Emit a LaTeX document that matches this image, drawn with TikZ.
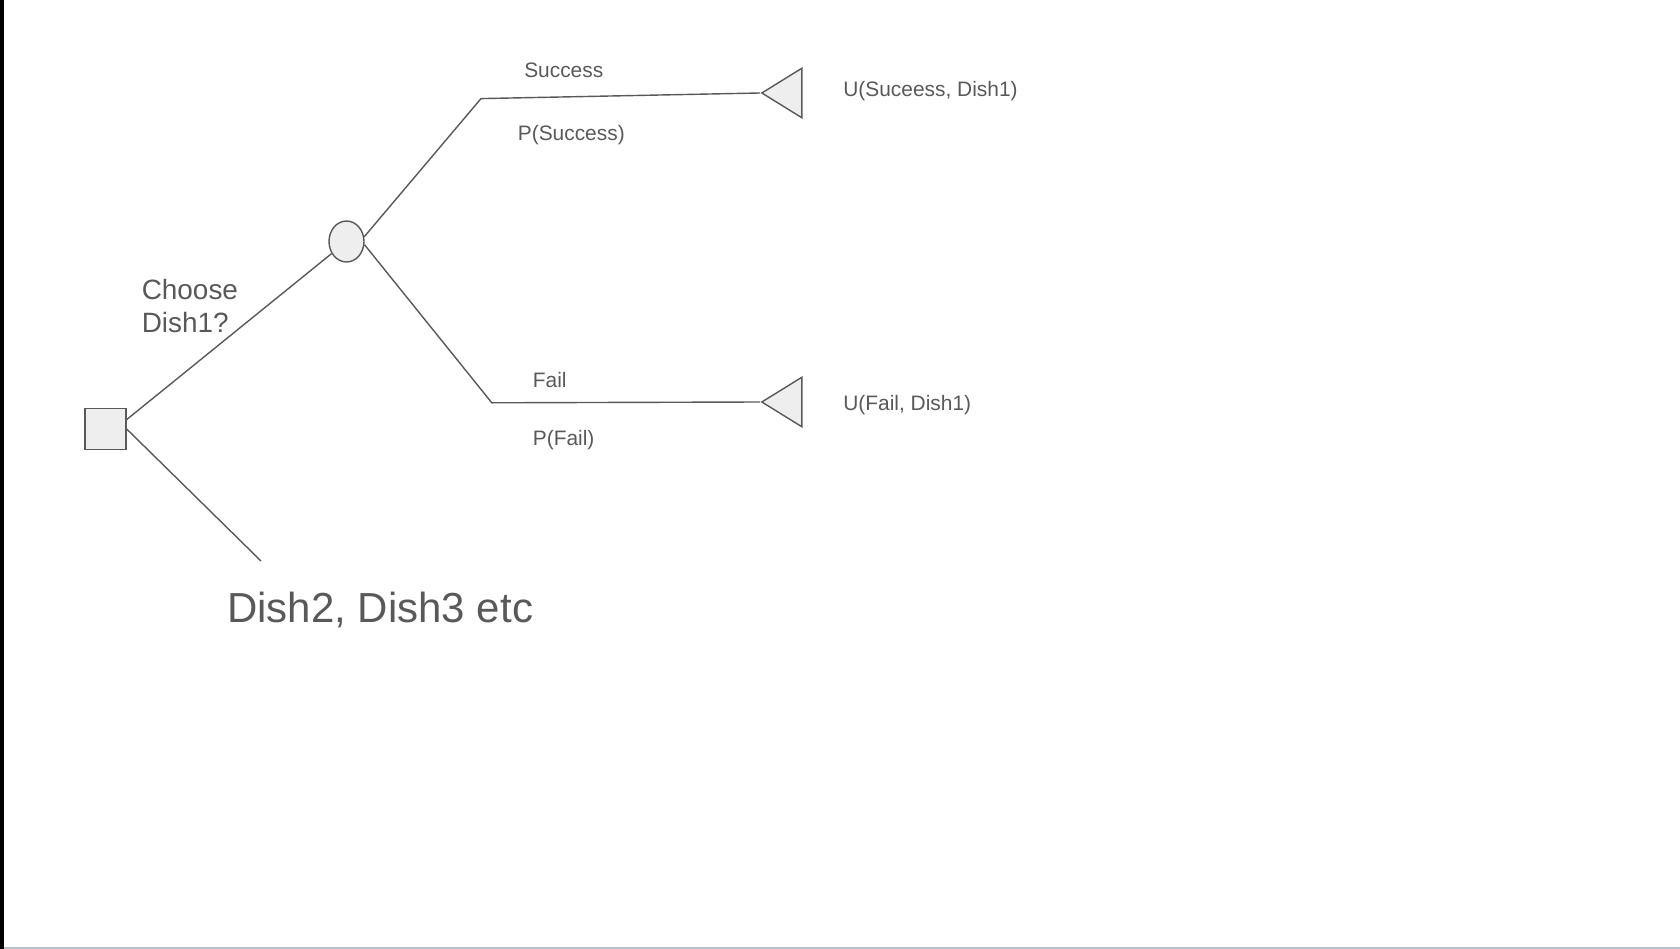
\documentclass[tikz,border=0pt]{standalone}
\usepackage{fontspec}
\setmainfont{Liberation Sans}
\usetikzlibrary{shapes.geometric}

\definecolor{inkgray}{HTML}{595959}
\definecolor{shapefill}{HTML}{EEEEEE}
\definecolor{edgegray}{HTML}{B8C1C8}

\tikzset{
  decision/.style={rectangle, draw=inkgray, fill=shapefill, line width=0.8pt, minimum size=0.82cm, inner sep=0},
  chance/.style={ellipse, draw=inkgray, fill=shapefill, line width=0.8pt, minimum width=0.7cm, minimum height=0.82cm, inner sep=0},
  payoff/.style={isosceles triangle, isosceles triangle stretches, shape border rotate=180, draw=inkgray, fill=shapefill, line width=0.8pt, minimum width=0.99cm, minimum height=0.8cm, inner sep=0},
  branch/.style={draw=inkgray, line width=0.8pt},
  lbl/.style={text=inkgray, inner sep=0, anchor=west, font=\fontsize{11.9}{14}\selectfont},
  biglbl/.style={text=inkgray, inner sep=0, anchor=west, align=left, font=\fontsize{15.9}{18.7}\selectfont}
}

\begin{document}
\begin{tikzpicture}[x=0.02cm, y=-0.02cm]
            % Page frame
            \useasboundingbox (0,0) rectangle (1680,949);
            \fill[black] (0,0) rectangle (4,949);
            \fill[edgegray] (4,946.5) rectangle (1680,949);

            % Decision, chance and outcome nodes
            \node[decision] (dec) at (105.5,429) {};
            \node[chance] (chance) at (346.5,241.5) {};
            \node[payoff, anchor=apex] (winTri) at (760,93) {};
            \node[payoff, anchor=apex] (failTri) at (760,402) {};

            \coordinate (winKnee) at (481,98.6);
            \coordinate (failKnee) at (491.8,402.8);
            \coordinate (otherEnd) at (261,561);

            % Branches
            \draw[branch] (dec.24) -- (chance);
            \draw[branch] (dec.east) -- (otherEnd);
            \draw[branch] (chance.15) -- (winKnee) -- (winTri.apex);
            \draw[branch] (chance.-10) -- (failKnee) -- (failTri.apex);

            % Labels
            \node[lbl] (winLbl) at (523.9,70.5) {Success};
            \node[lbl] (winProb) at (517.5,135) {P(Success)};
            \node[lbl] (winUtil) at (843,91) {U(Suceess, Dish1)};
            \node[lbl] (failLbl) at (532.5,380) {Fail};
            \node[lbl] (failProb) at (532.5,440) {P(Fail)};
            \node[lbl] (failUtil) at (843,405) {U(Fail, Dish1)};
            \node[biglbl] (chooseLbl) at (141.4,305.7) {Choose\\Dish1?};
            \node[lbl, font=\fontsize{23.9}{28}\selectfont] (otherLbl) at (227,609.5) {Dish2, Dish3 etc};
        \end{tikzpicture}
\end{document}
